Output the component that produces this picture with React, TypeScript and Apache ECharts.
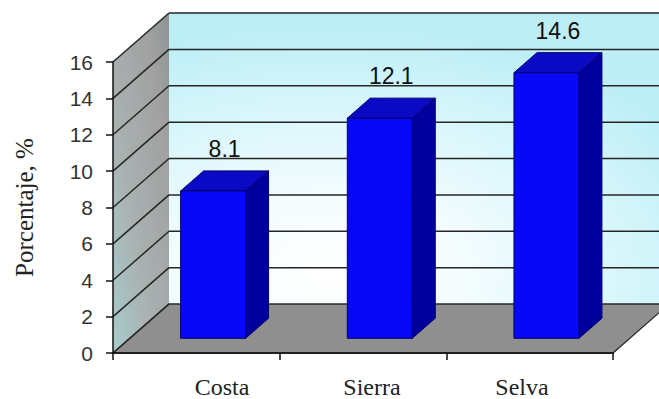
import React, { useEffect, useRef } from "react";
import * as echarts from "echarts";

const categories = ["Costa", "Sierra", "Selva"];
const values = [8.1, 12.1, 14.6];
const yTicks = [0, 2, 4, 6, 8, 10, 12, 14, 16];
const yTitle = "Porcentaje, %";

// 3D depth offset (pixels) and bar depth placement
const DX = 56;
const DY = -49;
const F0 = 0.3;
const F1 = 0.71;

export default function App() {
  const ref = useRef<HTMLDivElement>(null);

  useEffect(() => {
    if (!ref.current) return;
    document.body.style.margin = "0";
    const chart = echarts.init(ref.current, undefined, { renderer: "svg" });

    const gridStroke = { stroke: "#262626", lineWidth: 1.5 };

    const renderBackground = (params: any, api: any) => {
      const cs = params.coordSys;
      const x0 = cs.x;
      const x1 = cs.x + cs.width;
      const yBot = api.coord([0, 0])[1];
      const yTop = api.coord([0, yTicks[yTicks.length - 1]])[1];
      const children: any[] = [];
      // back wall
      children.push({
        type: "polygon",
        shape: {
          points: [
            [x0 + DX, yTop + DY],
            [x1 + DX, yTop + DY],
            [x1 + DX, yBot + DY],
            [x0 + DX, yBot + DY],
          ],
        },
        style: {
          fill: new echarts.graphic.RadialGradient(0.32, 0.9, 0.85, [
            { offset: 0, color: "#ffffff" },
            { offset: 0.35, color: "#f2fcfe" },
            { offset: 0.75, color: "#d2f5fa" },
            { offset: 1, color: "#bdeef6" },
          ]),
        },
      });
      // side wall
      children.push({
        type: "polygon",
        shape: {
          points: [
            [x0, yTop],
            [x0 + DX, yTop + DY],
            [x0 + DX, yBot + DY],
            [x0, yBot],
          ],
        },
        style: {
          fill: new echarts.graphic.LinearGradient(0, 1, 1, 0, [
            { offset: 0, color: "#a6cccc" },
            { offset: 0.35, color: "#aab2b2" },
            { offset: 0.8, color: "#a0a0a0" },
            { offset: 1, color: "#8c9494" },
          ]),
        },
      });
      // floor
      children.push({
        type: "polygon",
        shape: {
          points: [
            [x0, yBot],
            [x1, yBot],
            [x1 + DX, yBot + DY],
            [x0 + DX, yBot + DY],
          ],
        },
        style: { fill: "#8f8f8f", stroke: "#2a2a2a", lineWidth: 1.3 },
      });
      // gridlines
      yTicks.forEach((t) => {
        const y = api.coord([0, t])[1];
        if (t > 0) {
          children.push({
            type: "line",
            shape: { x1: x0 + DX, y1: y + DY, x2: x1 + DX, y2: y + DY },
            style: gridStroke,
          });
        }
        children.push({
          type: "line",
          shape: { x1: x0, y1: y, x2: x0 + DX, y2: y + DY },
          style: gridStroke,
        });
      });
      return { type: "group", children };
    };

    const renderBar = (params: any, api: any) => {
      const i = api.value(0);
      const v = api.value(1);
      const base = api.coord([i, 0]);
      const top = api.coord([i, v]);
      const cw = api.size([1, 0])[0];
      const w = cw * 0.39;
      const fx0 = base[0] - w / 2 + F0 * DX;
      const fy0 = base[1] + F0 * DY;
      const ft = top[1] + F0 * DY;
      const bdx = (F1 - F0) * DX;
      const bdy = (F1 - F0) * DY;
      const edge = { stroke: "#00006a", lineWidth: 1 };
      return {
        type: "group",
        children: [
          {
            type: "polygon",
            shape: {
              points: [
                [fx0 + w, ft],
                [fx0 + w + bdx, ft + bdy],
                [fx0 + w + bdx, fy0 + bdy],
                [fx0 + w, fy0],
              ],
            },
            style: { fill: "#00009e", ...edge },
          },
          {
            type: "polygon",
            shape: {
              points: [
                [fx0, ft],
                [fx0 + w, ft],
                [fx0 + w + bdx, ft + bdy],
                [fx0 + bdx, ft + bdy],
              ],
            },
            style: { fill: "#0a0ac4", ...edge },
          },
          {
            type: "polygon",
            shape: {
              points: [
                [fx0, ft],
                [fx0 + w, ft],
                [fx0 + w, fy0],
                [fx0, fy0],
              ],
            },
            style: { fill: "#0808f8", ...edge },
          },
          {
            type: "text",
            style: {
              x: fx0 + (w + bdx) / 2,
              y: ft + bdy - 22,
              text: v.toFixed(1),
              fill: "#111111",
              fontSize: 23,
              fontFamily: "'Liberation Sans', Arial, sans-serif",
              align: "center",
              verticalAlign: "middle",
            },
          },
        ],
      };
    };

    chart.setOption({
      animation: false,
      backgroundColor: "#ffffff",
      grid: [
        { left: 113, top: 62, width: 500, height: 291, outerBoundsMode: "none", containLabel: false },
        { left: 147, top: 62, width: 450, height: 291, outerBoundsMode: "none", containLabel: false },
      ],
      xAxis: [
        {
          type: "category",
          gridIndex: 0,
          data: categories,
          z: 5,
          axisLine: { show: true, lineStyle: { color: "#111111", width: 1.5 } },
          axisTick: { show: true, length: 7, lineStyle: { color: "#111111", width: 1.5 } },
          axisLabel: { show: false },
          splitLine: { show: false },
        },
        {
          type: "category",
          gridIndex: 1,
          data: categories,
          axisLine: { show: false },
          axisTick: { show: false },
          axisLabel: {
            show: true,
            margin: 22,
            fontSize: 24,
            color: "#222222",
            fontFamily: "'Liberation Serif', 'Times New Roman', serif",
          },
          splitLine: { show: false },
        },
      ],
      yAxis: [
        {
          type: "value",
          gridIndex: 0,
          min: 0,
          max: 16,
          interval: 2,
          z: 5,
          name: yTitle,
          nameLocation: "middle",
          nameGap: 76,
          nameRotate: 90,
          nameTextStyle: {
            fontSize: 25,
            color: "#222222",
            fontFamily: "'Liberation Serif', 'Times New Roman', serif",
          },
          axisLine: { show: true, lineStyle: { color: "#111111", width: 1.5 } },
          axisTick: { show: true, length: 7, lineStyle: { color: "#111111", width: 1.5 } },
          axisLabel: {
            margin: 20,
            fontSize: 21,
            color: "#333333",
            fontFamily: "'Liberation Sans', Arial, sans-serif",
          },
          splitLine: { show: false },
        },
        {
          type: "value",
          gridIndex: 1,
          min: 0,
          max: 16,
          interval: 2,
          show: false,
        },
      ],
      series: [
        {
          type: "custom",
          xAxisIndex: 0,
          yAxisIndex: 0,
          z: 1,
          clip: false,
          silent: true,
          data: [[0, 0]],
          renderItem: renderBackground,
        },
        {
          type: "custom",
          xAxisIndex: 0,
          yAxisIndex: 0,
          z: 6,
          clip: false,
          data: values.map((v, i) => [i, v]),
          renderItem: renderBar,
        },
      ],
    });

    return () => chart.dispose();
  }, []);

  return (
    <div
      ref={ref}
      style={{ width: 659, height: 399, position: "absolute", left: 0, top: 0 }}
    />
  );
}
